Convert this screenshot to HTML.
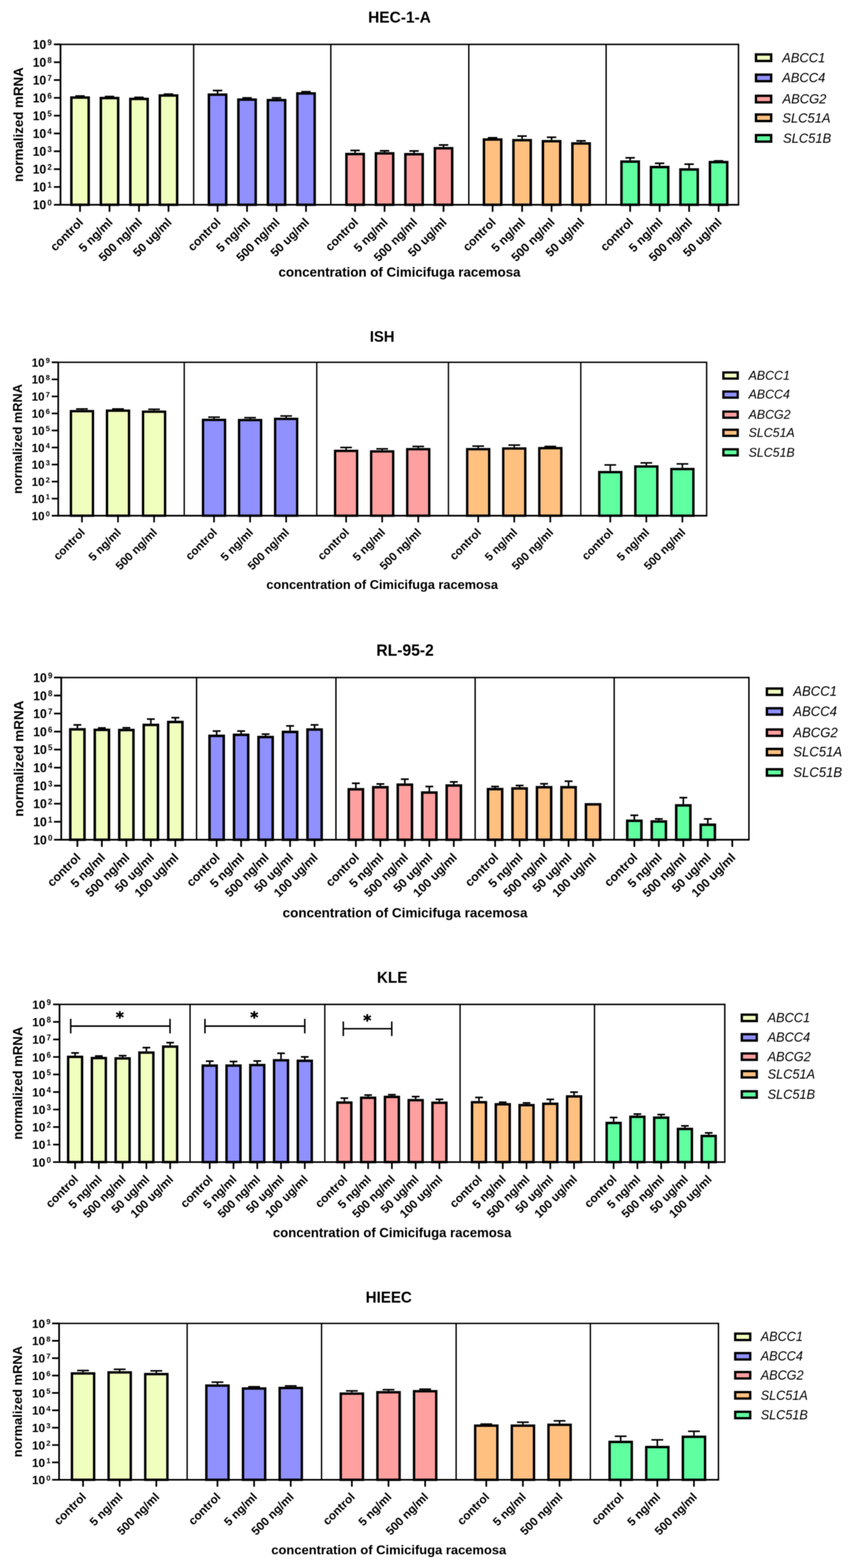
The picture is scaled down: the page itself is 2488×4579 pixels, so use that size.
<!DOCTYPE html>
<html lang="en">
<head>
<meta charset="utf-8">
<title>Normalized mRNA expression of transporters under Cimicifuga racemosa</title>
<style>
html,body{margin:0;padding:0;background:#fff;}
body{width:2488px;height:4579px;overflow:hidden;}
svg{display:block;filter:blur(1.2px);}
text{font-family:"Liberation Sans",Arial,Helvetica,sans-serif;fill:#000;}
.b{font-weight:700;}
.i{font-style:italic;font-weight:400;}
.s{font-family:"DejaVu Sans","Liberation Sans",sans-serif;font-weight:700;stroke:#000;stroke-width:1.3px;stroke-linejoin:round;}
</style>
</head>
<body>
<svg width="2488" height="4579" viewBox="0 0 2488 4579" role="img" aria-label="Bar charts of normalized mRNA expression">
<rect x="0" y="0" width="2488" height="4579" fill="#fff"/>
<g>
<text class="b" transform="translate(1166.6 66.2) scale(1 1.04)" font-size="45.2" text-anchor="middle">HEC-1-A</text>
<path d="M176.7 129.6H2156.5V598" fill="none" stroke="#000" stroke-width="4.2"/>
<path d="M565.5 129.6V598M966 129.6V598M1369 129.6V598M1770 129.6V598" fill="none" stroke="#000" stroke-width="4"/>
<path d="M233.7 281.3V280.4M220 280.4H247.4" fill="none" stroke="#000" stroke-width="4.6"/>
<rect x="208.4" y="284.9" width="50.6" height="313.1" fill="#F0FFBE" stroke="#000" stroke-width="7.2"/>
<path d="M319.8 282.8V281.9M306.1 281.9H333.5" fill="none" stroke="#000" stroke-width="4.6"/>
<rect x="294.5" y="286.4" width="50.6" height="311.6" fill="#F0FFBE" stroke="#000" stroke-width="7.2"/>
<path d="M405.9 285.3V284.4M392.2 284.4H419.6" fill="none" stroke="#000" stroke-width="4.6"/>
<rect x="380.6" y="288.9" width="50.6" height="309.1" fill="#F0FFBE" stroke="#000" stroke-width="7.2"/>
<path d="M492 275.3V274.9M478.3 274.9H505.7" fill="none" stroke="#000" stroke-width="4.6"/>
<rect x="466.7" y="278.9" width="50.6" height="319.1" fill="#F0FFBE" stroke="#000" stroke-width="7.2"/>
<path d="M635.3 272.8V264.4M621.6 264.4H649" fill="none" stroke="#000" stroke-width="4.6"/>
<rect x="610" y="276.4" width="50.6" height="321.6" fill="#9090FF" stroke="#000" stroke-width="7.2"/>
<path d="M721.4 287.3V285.9M707.7 285.9H735.1" fill="none" stroke="#000" stroke-width="4.6"/>
<rect x="696.1" y="290.9" width="50.6" height="307.1" fill="#9090FF" stroke="#000" stroke-width="7.2"/>
<path d="M807.5 288.8V285.9M793.8 285.9H821.2" fill="none" stroke="#000" stroke-width="4.6"/>
<rect x="782.2" y="292.4" width="50.6" height="305.6" fill="#9090FF" stroke="#000" stroke-width="7.2"/>
<path d="M893.6 269.3V267.9M879.9 267.9H907.3" fill="none" stroke="#000" stroke-width="4.6"/>
<rect x="868.3" y="272.9" width="50.6" height="325.1" fill="#9090FF" stroke="#000" stroke-width="7.2"/>
<path d="M1036.9 446.3V439.4M1023.2 439.4H1050.6" fill="none" stroke="#000" stroke-width="4.6"/>
<rect x="1011.6" y="449.9" width="50.6" height="148.1" fill="#FFA0A0" stroke="#000" stroke-width="7.2"/>
<path d="M1123 444.3V440.4M1109.3 440.4H1136.7" fill="none" stroke="#000" stroke-width="4.6"/>
<rect x="1097.7" y="447.9" width="50.6" height="150.1" fill="#FFA0A0" stroke="#000" stroke-width="7.2"/>
<path d="M1209.1 446.8V440.9M1195.4 440.9H1222.8" fill="none" stroke="#000" stroke-width="4.6"/>
<rect x="1183.8" y="450.4" width="50.6" height="147.6" fill="#FFA0A0" stroke="#000" stroke-width="7.2"/>
<path d="M1295.2 429.3V423.4M1281.5 423.4H1308.9" fill="none" stroke="#000" stroke-width="4.6"/>
<rect x="1269.9" y="432.9" width="50.6" height="165.1" fill="#FFA0A0" stroke="#000" stroke-width="7.2"/>
<path d="M1438.5 403.8V402.4M1424.8 402.4H1452.2" fill="none" stroke="#000" stroke-width="4.6"/>
<rect x="1413.2" y="407.4" width="50.6" height="190.6" fill="#FFC080" stroke="#000" stroke-width="7.2"/>
<path d="M1524.6 405.8V397.4M1510.9 397.4H1538.3" fill="none" stroke="#000" stroke-width="4.6"/>
<rect x="1499.3" y="409.4" width="50.6" height="188.6" fill="#FFC080" stroke="#000" stroke-width="7.2"/>
<path d="M1610.7 408.8V400.9M1597 400.9H1624.4" fill="none" stroke="#000" stroke-width="4.6"/>
<rect x="1585.4" y="412.4" width="50.6" height="185.6" fill="#FFC080" stroke="#000" stroke-width="7.2"/>
<path d="M1696.8 415.3V411.4M1683.1 411.4H1710.5" fill="none" stroke="#000" stroke-width="4.6"/>
<rect x="1671.5" y="418.9" width="50.6" height="179.1" fill="#FFC080" stroke="#000" stroke-width="7.2"/>
<path d="M1840.1 468.3V460.9M1826.4 460.9H1853.8" fill="none" stroke="#000" stroke-width="4.6"/>
<rect x="1814.8" y="471.9" width="50.6" height="126.1" fill="#60FFA0" stroke="#000" stroke-width="7.2"/>
<path d="M1926.2 484.3V476.9M1912.5 476.9H1939.9" fill="none" stroke="#000" stroke-width="4.6"/>
<rect x="1900.9" y="487.9" width="50.6" height="110.1" fill="#60FFA0" stroke="#000" stroke-width="7.2"/>
<path d="M2012.3 491.3V479.4M1998.6 479.4H2026" fill="none" stroke="#000" stroke-width="4.6"/>
<rect x="1987" y="494.9" width="50.6" height="103.1" fill="#60FFA0" stroke="#000" stroke-width="7.2"/>
<path d="M2098.4 469.8V469.9M2084.7 469.9H2112.1" fill="none" stroke="#000" stroke-width="4.6"/>
<rect x="2073.1" y="473.4" width="50.6" height="124.6" fill="#60FFA0" stroke="#000" stroke-width="7.2"/>
<path d="M176.7 127.5V598H2158.6" fill="none" stroke="#000" stroke-width="5" stroke-linejoin="miter"/>
<path d="M157.4 598H176.7M157.4 545.96H176.7M157.4 493.91H176.7M157.4 441.87H176.7M157.4 389.82H176.7M157.4 337.78H176.7M157.4 285.73H176.7M157.4 233.69H176.7M157.4 181.64H176.7M157.4 129.6H176.7M233.7 598V618.5M319.8 598V618.5M405.9 598V618.5M492 598V618.5M635.3 598V618.5M721.4 598V618.5M807.5 598V618.5M893.6 598V618.5M1036.9 598V618.5M1123 598V618.5M1209.1 598V618.5M1295.2 598V618.5M1438.5 598V618.5M1524.6 598V618.5M1610.7 598V618.5M1696.8 598V618.5M1840.1 598V618.5M1926.2 598V618.5M2012.3 598V618.5M2098.4 598V618.5" fill="none" stroke="#000" stroke-width="5"/>
<text class="b" transform="translate(151.2 611.2) scale(1 1.04)" font-size="35.1" text-anchor="end">10<tspan font-size="22.64" dx="3.8" dy="-10.6">0</tspan></text>
<text class="b" transform="translate(151.2 559.16) scale(1 1.04)" font-size="35.1" text-anchor="end">10<tspan font-size="22.64" dx="3.8" dy="-10.6">1</tspan></text>
<text class="b" transform="translate(151.2 507.11) scale(1 1.04)" font-size="35.1" text-anchor="end">10<tspan font-size="22.64" dx="3.8" dy="-10.6">2</tspan></text>
<text class="b" transform="translate(151.2 455.07) scale(1 1.04)" font-size="35.1" text-anchor="end">10<tspan font-size="22.64" dx="3.8" dy="-10.6">3</tspan></text>
<text class="b" transform="translate(151.2 403.02) scale(1 1.04)" font-size="35.1" text-anchor="end">10<tspan font-size="22.64" dx="3.8" dy="-10.6">4</tspan></text>
<text class="b" transform="translate(151.2 350.98) scale(1 1.04)" font-size="35.1" text-anchor="end">10<tspan font-size="22.64" dx="3.8" dy="-10.6">5</tspan></text>
<text class="b" transform="translate(151.2 298.93) scale(1 1.04)" font-size="35.1" text-anchor="end">10<tspan font-size="22.64" dx="3.8" dy="-10.6">6</tspan></text>
<text class="b" transform="translate(151.2 246.89) scale(1 1.04)" font-size="35.1" text-anchor="end">10<tspan font-size="22.64" dx="3.8" dy="-10.6">7</tspan></text>
<text class="b" transform="translate(151.2 194.84) scale(1 1.04)" font-size="35.1" text-anchor="end">10<tspan font-size="22.64" dx="3.8" dy="-10.6">8</tspan></text>
<text class="b" transform="translate(151.2 142.8) scale(1 1.04)" font-size="35.1" text-anchor="end">10<tspan font-size="22.64" dx="3.8" dy="-10.6">9</tspan></text>
<text class="b" transform="translate(245 651.3) rotate(-45) scale(1 1)" font-size="35.1" text-anchor="end">control</text>
<text class="b" transform="translate(331.1 651.3) rotate(-45) scale(1 1)" font-size="35.1" text-anchor="end">5 ng/ml</text>
<text class="b" transform="translate(417.2 651.3) rotate(-45) scale(1 1)" font-size="35.1" text-anchor="end">500 ng/ml</text>
<text class="b" transform="translate(503.3 651.3) rotate(-45) scale(1 1)" font-size="35.1" text-anchor="end">50 ug/ml</text>
<text class="b" transform="translate(646.6 651.3) rotate(-45) scale(1 1)" font-size="35.1" text-anchor="end">control</text>
<text class="b" transform="translate(732.7 651.3) rotate(-45) scale(1 1)" font-size="35.1" text-anchor="end">5 ng/ml</text>
<text class="b" transform="translate(818.8 651.3) rotate(-45) scale(1 1)" font-size="35.1" text-anchor="end">500 ng/ml</text>
<text class="b" transform="translate(904.9 651.3) rotate(-45) scale(1 1)" font-size="35.1" text-anchor="end">50 ug/ml</text>
<text class="b" transform="translate(1048.2 651.3) rotate(-45) scale(1 1)" font-size="35.1" text-anchor="end">control</text>
<text class="b" transform="translate(1134.3 651.3) rotate(-45) scale(1 1)" font-size="35.1" text-anchor="end">5 ng/ml</text>
<text class="b" transform="translate(1220.4 651.3) rotate(-45) scale(1 1)" font-size="35.1" text-anchor="end">500 ng/ml</text>
<text class="b" transform="translate(1306.5 651.3) rotate(-45) scale(1 1)" font-size="35.1" text-anchor="end">50 ug/ml</text>
<text class="b" transform="translate(1449.8 651.3) rotate(-45) scale(1 1)" font-size="35.1" text-anchor="end">control</text>
<text class="b" transform="translate(1535.9 651.3) rotate(-45) scale(1 1)" font-size="35.1" text-anchor="end">5 ng/ml</text>
<text class="b" transform="translate(1622 651.3) rotate(-45) scale(1 1)" font-size="35.1" text-anchor="end">500 ng/ml</text>
<text class="b" transform="translate(1708.1 651.3) rotate(-45) scale(1 1)" font-size="35.1" text-anchor="end">50 ug/ml</text>
<text class="b" transform="translate(1851.4 651.3) rotate(-45) scale(1 1)" font-size="35.1" text-anchor="end">control</text>
<text class="b" transform="translate(1937.5 651.3) rotate(-45) scale(1 1)" font-size="35.1" text-anchor="end">5 ng/ml</text>
<text class="b" transform="translate(2023.6 651.3) rotate(-45) scale(1 1)" font-size="35.1" text-anchor="end">500 ng/ml</text>
<text class="b" transform="translate(2109.7 651.3) rotate(-45) scale(1 1)" font-size="35.1" text-anchor="end">50 ug/ml</text>
<text class="b" transform="translate(1166.6 807.8) scale(1 1)" font-size="38.9" text-anchor="middle">concentration of Cimicifuga racemosa</text>
<text class="b" transform="translate(67 363.8) rotate(-90) scale(1 1)" font-size="38.9" text-anchor="middle">normalized mRNA</text>
<rect x="2207.65" y="158.95" width="44.3" height="19.1" fill="#F0FFBE" stroke="#000" stroke-width="6.9"/>
<text class="i" transform="translate(2284 182.3) scale(1 1.04)" font-size="37.8">ABCC1</text>
<rect x="2207.65" y="217.95" width="44.3" height="19.1" fill="#9090FF" stroke="#000" stroke-width="6.9"/>
<text class="i" transform="translate(2284 240) scale(1 1.04)" font-size="37.8">ABCC4</text>
<rect x="2207.65" y="279.75" width="44.3" height="19.1" fill="#FFA0A0" stroke="#000" stroke-width="6.9"/>
<text class="i" transform="translate(2285 301.5) scale(1 1.04)" font-size="37.8">ABCG2</text>
<rect x="2207.65" y="334.35" width="44.3" height="19.1" fill="#FFC080" stroke="#000" stroke-width="6.9"/>
<text class="i" transform="translate(2284.5 357.5) scale(1 1.04)" font-size="37.8">SLC51A</text>
<rect x="2207.65" y="394.45" width="44.3" height="19.1" fill="#60FFA0" stroke="#000" stroke-width="6.9"/>
<text class="i" transform="translate(2286.5 416.8) scale(1 1.04)" font-size="37.8">SLC51B</text>
</g>
<g>
<text class="b" transform="translate(1116 997.9) scale(1 1.04)" font-size="43.26" text-anchor="middle">ISH</text>
<path d="M170 1058H2063.5V1506" fill="none" stroke="#000" stroke-width="4.02"/>
<path d="M538 1058V1506M925 1058V1506M1309.5 1058V1506M1696 1058V1506" fill="none" stroke="#000" stroke-width="3.83"/>
<path d="M239.3 1197.3V1194.3M222.25 1194.3H256.35" fill="none" stroke="#000" stroke-width="4.4"/>
<rect x="207.15" y="1200.75" width="64.31" height="305.25" fill="#F0FFBE" stroke="#000" stroke-width="6.89"/>
<path d="M344.6 1195.8V1194.3M327.55 1194.3H361.65" fill="none" stroke="#000" stroke-width="4.4"/>
<rect x="312.45" y="1199.25" width="64.31" height="306.75" fill="#F0FFBE" stroke="#000" stroke-width="6.89"/>
<path d="M449.9 1198.8V1195.3M432.85 1195.3H466.95" fill="none" stroke="#000" stroke-width="4.4"/>
<rect x="417.75" y="1202.25" width="64.31" height="303.75" fill="#F0FFBE" stroke="#000" stroke-width="6.89"/>
<path d="M625 1222.8V1218.3M607.95 1218.3H642.05" fill="none" stroke="#000" stroke-width="4.4"/>
<rect x="592.85" y="1226.25" width="64.31" height="279.75" fill="#9090FF" stroke="#000" stroke-width="6.89"/>
<path d="M730.3 1223.3V1219.8M713.25 1219.8H747.35" fill="none" stroke="#000" stroke-width="4.4"/>
<rect x="698.15" y="1226.75" width="64.31" height="279.25" fill="#9090FF" stroke="#000" stroke-width="6.89"/>
<path d="M835.6 1219.8V1214.8M818.55 1214.8H852.65" fill="none" stroke="#000" stroke-width="4.4"/>
<rect x="803.45" y="1223.25" width="64.31" height="282.75" fill="#9090FF" stroke="#000" stroke-width="6.89"/>
<path d="M1010.7 1313.3V1306.8M993.65 1306.8H1027.75" fill="none" stroke="#000" stroke-width="4.4"/>
<rect x="978.55" y="1316.75" width="64.31" height="189.25" fill="#FFA0A0" stroke="#000" stroke-width="6.89"/>
<path d="M1116 1314.8V1310.8M1098.95 1310.8H1133.05" fill="none" stroke="#000" stroke-width="4.4"/>
<rect x="1083.85" y="1318.25" width="64.31" height="187.75" fill="#FFA0A0" stroke="#000" stroke-width="6.89"/>
<path d="M1221.3 1308.3V1303.8M1204.25 1303.8H1238.35" fill="none" stroke="#000" stroke-width="4.4"/>
<rect x="1189.15" y="1311.75" width="64.31" height="194.25" fill="#FFA0A0" stroke="#000" stroke-width="6.89"/>
<path d="M1396.4 1308.3V1302.8M1379.35 1302.8H1413.45" fill="none" stroke="#000" stroke-width="4.4"/>
<rect x="1364.25" y="1311.75" width="64.31" height="194.25" fill="#FFC080" stroke="#000" stroke-width="6.89"/>
<path d="M1501.7 1306.3V1299.8M1484.65 1299.8H1518.75" fill="none" stroke="#000" stroke-width="4.4"/>
<rect x="1469.55" y="1309.75" width="64.31" height="196.25" fill="#FFC080" stroke="#000" stroke-width="6.89"/>
<path d="M1607 1305.3V1303.8M1589.95 1303.8H1624.05" fill="none" stroke="#000" stroke-width="4.4"/>
<rect x="1574.85" y="1308.75" width="64.31" height="197.25" fill="#FFC080" stroke="#000" stroke-width="6.89"/>
<path d="M1782.1 1375.3V1357.8M1765.05 1357.8H1799.15" fill="none" stroke="#000" stroke-width="4.4"/>
<rect x="1749.95" y="1378.75" width="64.31" height="127.25" fill="#60FFA0" stroke="#000" stroke-width="6.89"/>
<path d="M1887.4 1358.8V1351.8M1870.35 1351.8H1904.45" fill="none" stroke="#000" stroke-width="4.4"/>
<rect x="1855.25" y="1362.25" width="64.31" height="143.75" fill="#60FFA0" stroke="#000" stroke-width="6.89"/>
<path d="M1992.7 1366.3V1354.8M1975.65 1354.8H2009.75" fill="none" stroke="#000" stroke-width="4.4"/>
<rect x="1960.55" y="1369.75" width="64.31" height="136.25" fill="#60FFA0" stroke="#000" stroke-width="6.89"/>
<path d="M170 1055.99V1506H2065.51" fill="none" stroke="#000" stroke-width="4.79" stroke-linejoin="miter"/>
<path d="M151.1 1506H170M151.1 1456.22H170M151.1 1406.44H170M151.1 1356.67H170M151.1 1306.89H170M151.1 1257.11H170M151.1 1207.33H170M151.1 1157.56H170M151.1 1107.78H170M151.1 1058H170M239.3 1506V1525.62M344.6 1506V1525.62M449.9 1506V1525.62M625 1506V1525.62M730.3 1506V1525.62M835.6 1506V1525.62M1010.7 1506V1525.62M1116 1506V1525.62M1221.3 1506V1525.62M1396.4 1506V1525.62M1501.7 1506V1525.62M1607 1506V1525.62M1782.1 1506V1525.62M1887.4 1506V1525.62M1992.7 1506V1525.62" fill="none" stroke="#000" stroke-width="4.79"/>
<text class="b" transform="translate(145.6 1518.63) scale(1 1.04)" font-size="33.59" text-anchor="end">10<tspan font-size="21.67" dx="3.64" dy="-10.14">0</tspan></text>
<text class="b" transform="translate(145.6 1468.85) scale(1 1.04)" font-size="33.59" text-anchor="end">10<tspan font-size="21.67" dx="3.64" dy="-10.14">1</tspan></text>
<text class="b" transform="translate(145.6 1419.08) scale(1 1.04)" font-size="33.59" text-anchor="end">10<tspan font-size="21.67" dx="3.64" dy="-10.14">2</tspan></text>
<text class="b" transform="translate(145.6 1369.3) scale(1 1.04)" font-size="33.59" text-anchor="end">10<tspan font-size="21.67" dx="3.64" dy="-10.14">3</tspan></text>
<text class="b" transform="translate(145.6 1319.52) scale(1 1.04)" font-size="33.59" text-anchor="end">10<tspan font-size="21.67" dx="3.64" dy="-10.14">4</tspan></text>
<text class="b" transform="translate(145.6 1269.74) scale(1 1.04)" font-size="33.59" text-anchor="end">10<tspan font-size="21.67" dx="3.64" dy="-10.14">5</tspan></text>
<text class="b" transform="translate(145.6 1219.97) scale(1 1.04)" font-size="33.59" text-anchor="end">10<tspan font-size="21.67" dx="3.64" dy="-10.14">6</tspan></text>
<text class="b" transform="translate(145.6 1170.19) scale(1 1.04)" font-size="33.59" text-anchor="end">10<tspan font-size="21.67" dx="3.64" dy="-10.14">7</tspan></text>
<text class="b" transform="translate(145.6 1120.41) scale(1 1.04)" font-size="33.59" text-anchor="end">10<tspan font-size="21.67" dx="3.64" dy="-10.14">8</tspan></text>
<text class="b" transform="translate(145.6 1070.63) scale(1 1.04)" font-size="33.59" text-anchor="end">10<tspan font-size="21.67" dx="3.64" dy="-10.14">9</tspan></text>
<text class="b" transform="translate(250.11 1557.01) rotate(-45) scale(1 1)" font-size="33.59" text-anchor="end">control</text>
<text class="b" transform="translate(355.41 1557.01) rotate(-45) scale(1 1)" font-size="33.59" text-anchor="end">5 ng/ml</text>
<text class="b" transform="translate(460.71 1557.01) rotate(-45) scale(1 1)" font-size="33.59" text-anchor="end">500 ng/ml</text>
<text class="b" transform="translate(635.81 1557.01) rotate(-45) scale(1 1)" font-size="33.59" text-anchor="end">control</text>
<text class="b" transform="translate(741.11 1557.01) rotate(-45) scale(1 1)" font-size="33.59" text-anchor="end">5 ng/ml</text>
<text class="b" transform="translate(846.41 1557.01) rotate(-45) scale(1 1)" font-size="33.59" text-anchor="end">500 ng/ml</text>
<text class="b" transform="translate(1021.51 1557.01) rotate(-45) scale(1 1)" font-size="33.59" text-anchor="end">control</text>
<text class="b" transform="translate(1126.81 1557.01) rotate(-45) scale(1 1)" font-size="33.59" text-anchor="end">5 ng/ml</text>
<text class="b" transform="translate(1232.11 1557.01) rotate(-45) scale(1 1)" font-size="33.59" text-anchor="end">500 ng/ml</text>
<text class="b" transform="translate(1407.21 1557.01) rotate(-45) scale(1 1)" font-size="33.59" text-anchor="end">control</text>
<text class="b" transform="translate(1512.51 1557.01) rotate(-45) scale(1 1)" font-size="33.59" text-anchor="end">5 ng/ml</text>
<text class="b" transform="translate(1617.81 1557.01) rotate(-45) scale(1 1)" font-size="33.59" text-anchor="end">500 ng/ml</text>
<text class="b" transform="translate(1792.91 1557.01) rotate(-45) scale(1 1)" font-size="33.59" text-anchor="end">control</text>
<text class="b" transform="translate(1898.21 1557.01) rotate(-45) scale(1 1)" font-size="33.59" text-anchor="end">5 ng/ml</text>
<text class="b" transform="translate(2003.51 1557.01) rotate(-45) scale(1 1)" font-size="33.59" text-anchor="end">500 ng/ml</text>
<text class="b" transform="translate(1116 1720) scale(1 1)" font-size="37.23" text-anchor="middle">concentration of Cimicifuga racemosa</text>
<text class="b" transform="translate(64 1282) rotate(-90) scale(1 1)" font-size="37.23" text-anchor="middle">normalized mRNA</text>
<rect x="2112.4" y="1087.65" width="41.9" height="17.9" fill="#F0FFBE" stroke="#000" stroke-width="6.6"/>
<text class="i" transform="translate(2186 1108.8) scale(1 1.04)" font-size="36.17">ABCC1</text>
<rect x="2112.4" y="1143.35" width="41.9" height="17.9" fill="#9090FF" stroke="#000" stroke-width="6.6"/>
<text class="i" transform="translate(2186 1163.8) scale(1 1.04)" font-size="36.17">ABCC4</text>
<rect x="2112.4" y="1201.95" width="41.9" height="17.9" fill="#FFA0A0" stroke="#000" stroke-width="6.6"/>
<text class="i" transform="translate(2186 1223.4) scale(1 1.04)" font-size="36.17">ABCG2</text>
<rect x="2112.4" y="1254.95" width="41.9" height="17.9" fill="#FFC080" stroke="#000" stroke-width="6.6"/>
<text class="i" transform="translate(2186 1276.4) scale(1 1.04)" font-size="36.17">SLC51A</text>
<rect x="2112.4" y="1312.05" width="41.9" height="17.9" fill="#60FFA0" stroke="#000" stroke-width="6.6"/>
<text class="i" transform="translate(2186 1333.9) scale(1 1.04)" font-size="36.17">SLC51B</text>
</g>
<g>
<text class="b" transform="translate(1182.9 1914.95) scale(1 1.04)" font-size="45.74" text-anchor="middle">RL-95-2</text>
<path d="M178.8 1978.5H2187V2452.3" fill="none" stroke="#000" stroke-width="4.25"/>
<path d="M574 1978.5V2452.3M981 1978.5V2452.3M1387.5 1978.5V2452.3M1793.5 1978.5V2452.3" fill="none" stroke="#000" stroke-width="4.05"/>
<path d="M226 2126.3V2116.93M214.55 2116.93H237.45" fill="none" stroke="#000" stroke-width="4.66"/>
<rect x="205.24" y="2129.94" width="41.51" height="322.36" fill="#F0FFBE" stroke="#000" stroke-width="7.29"/>
<path d="M297.5 2127.8V2125.93M286.05 2125.93H308.95" fill="none" stroke="#000" stroke-width="4.66"/>
<rect x="276.74" y="2131.44" width="41.51" height="320.86" fill="#F0FFBE" stroke="#000" stroke-width="7.29"/>
<path d="M369 2128.3V2125.43M357.55 2125.43H380.45" fill="none" stroke="#000" stroke-width="4.66"/>
<rect x="348.24" y="2131.94" width="41.51" height="320.36" fill="#F0FFBE" stroke="#000" stroke-width="7.29"/>
<path d="M440.5 2113.3V2099.93M429.05 2099.93H451.95" fill="none" stroke="#000" stroke-width="4.66"/>
<rect x="419.74" y="2116.94" width="41.51" height="335.36" fill="#F0FFBE" stroke="#000" stroke-width="7.29"/>
<path d="M512 2104.8V2095.93M500.55 2095.93H523.45" fill="none" stroke="#000" stroke-width="4.66"/>
<rect x="491.24" y="2108.44" width="41.51" height="343.86" fill="#F0FFBE" stroke="#000" stroke-width="7.29"/>
<path d="M632.6 2145.3V2134.93M621.15 2134.93H644.05" fill="none" stroke="#000" stroke-width="4.66"/>
<rect x="611.84" y="2148.94" width="41.51" height="303.36" fill="#9090FF" stroke="#000" stroke-width="7.29"/>
<path d="M704.1 2142.3V2134.93M692.65 2134.93H715.55" fill="none" stroke="#000" stroke-width="4.66"/>
<rect x="683.34" y="2145.94" width="41.51" height="306.36" fill="#9090FF" stroke="#000" stroke-width="7.29"/>
<path d="M775.6 2148.8V2143.93M764.15 2143.93H787.05" fill="none" stroke="#000" stroke-width="4.66"/>
<rect x="754.84" y="2152.44" width="41.51" height="299.86" fill="#9090FF" stroke="#000" stroke-width="7.29"/>
<path d="M847.1 2133.8V2119.93M835.65 2119.93H858.55" fill="none" stroke="#000" stroke-width="4.66"/>
<rect x="826.34" y="2137.44" width="41.51" height="314.86" fill="#9090FF" stroke="#000" stroke-width="7.29"/>
<path d="M918.6 2126.8V2116.93M907.15 2116.93H930.05" fill="none" stroke="#000" stroke-width="4.66"/>
<rect x="897.84" y="2130.44" width="41.51" height="321.86" fill="#9090FF" stroke="#000" stroke-width="7.29"/>
<path d="M1039.2 2301.3V2287.43M1027.75 2287.43H1050.65" fill="none" stroke="#000" stroke-width="4.66"/>
<rect x="1018.44" y="2304.94" width="41.51" height="147.36" fill="#FFA0A0" stroke="#000" stroke-width="7.29"/>
<path d="M1110.7 2295.3V2289.43M1099.25 2289.43H1122.15" fill="none" stroke="#000" stroke-width="4.66"/>
<rect x="1089.94" y="2298.94" width="41.51" height="153.36" fill="#FFA0A0" stroke="#000" stroke-width="7.29"/>
<path d="M1182.2 2287.8V2275.43M1170.75 2275.43H1193.65" fill="none" stroke="#000" stroke-width="4.66"/>
<rect x="1161.44" y="2291.44" width="41.51" height="160.86" fill="#FFA0A0" stroke="#000" stroke-width="7.29"/>
<path d="M1253.7 2310.8V2296.93M1242.25 2296.93H1265.15" fill="none" stroke="#000" stroke-width="4.66"/>
<rect x="1232.94" y="2314.44" width="41.51" height="137.86" fill="#FFA0A0" stroke="#000" stroke-width="7.29"/>
<path d="M1325.2 2290.3V2283.43M1313.75 2283.43H1336.65" fill="none" stroke="#000" stroke-width="4.66"/>
<rect x="1304.44" y="2293.94" width="41.51" height="158.36" fill="#FFA0A0" stroke="#000" stroke-width="7.29"/>
<path d="M1445.8 2300.8V2296.93M1434.35 2296.93H1457.25" fill="none" stroke="#000" stroke-width="4.66"/>
<rect x="1425.04" y="2304.44" width="41.51" height="147.86" fill="#FFC080" stroke="#000" stroke-width="7.29"/>
<path d="M1517.3 2298.8V2293.93M1505.85 2293.93H1528.75" fill="none" stroke="#000" stroke-width="4.66"/>
<rect x="1496.54" y="2302.44" width="41.51" height="149.86" fill="#FFC080" stroke="#000" stroke-width="7.29"/>
<path d="M1588.8 2295.3V2288.93M1577.35 2288.93H1600.25" fill="none" stroke="#000" stroke-width="4.66"/>
<rect x="1568.04" y="2298.94" width="41.51" height="153.36" fill="#FFC080" stroke="#000" stroke-width="7.29"/>
<path d="M1660.3 2295.3V2281.43M1648.85 2281.43H1671.75" fill="none" stroke="#000" stroke-width="4.66"/>
<rect x="1639.54" y="2298.94" width="41.51" height="153.36" fill="#FFC080" stroke="#000" stroke-width="7.29"/>
<rect x="1711.04" y="2348.94" width="41.51" height="103.36" fill="#FFC080" stroke="#000" stroke-width="7.29"/>
<path d="M1852.4 2393.3V2380.93M1840.95 2380.93H1863.85" fill="none" stroke="#000" stroke-width="4.66"/>
<rect x="1831.64" y="2396.94" width="41.51" height="55.36" fill="#60FFA0" stroke="#000" stroke-width="7.29"/>
<path d="M1923.9 2395.3V2391.43M1912.45 2391.43H1935.35" fill="none" stroke="#000" stroke-width="4.66"/>
<rect x="1903.14" y="2398.94" width="41.51" height="53.36" fill="#60FFA0" stroke="#000" stroke-width="7.29"/>
<path d="M1995.4 2348.3V2329.43M1983.95 2329.43H2006.85" fill="none" stroke="#000" stroke-width="4.66"/>
<rect x="1974.64" y="2351.94" width="41.51" height="100.36" fill="#60FFA0" stroke="#000" stroke-width="7.29"/>
<path d="M2066.9 2404.8V2391.43M2055.45 2391.43H2078.35" fill="none" stroke="#000" stroke-width="4.66"/>
<rect x="2046.14" y="2408.44" width="41.51" height="43.86" fill="#60FFA0" stroke="#000" stroke-width="7.29"/>
<path d="M178.8 1976.37V2452.3H2189.13" fill="none" stroke="#000" stroke-width="5.06" stroke-linejoin="miter"/>
<path d="M157.7 2452.3H178.8M157.7 2399.66H178.8M157.7 2347.01H178.8M157.7 2294.37H178.8M157.7 2241.72H178.8M157.7 2189.08H178.8M157.7 2136.43H178.8M157.7 2083.79H178.8M157.7 2031.14H178.8M157.7 1978.5H178.8M226 2452.3V2473.05M297.5 2452.3V2473.05M369 2452.3V2473.05M440.5 2452.3V2473.05M512 2452.3V2473.05M632.6 2452.3V2473.05M704.1 2452.3V2473.05M775.6 2452.3V2473.05M847.1 2452.3V2473.05M918.6 2452.3V2473.05M1039.2 2452.3V2473.05M1110.7 2452.3V2473.05M1182.2 2452.3V2473.05M1253.7 2452.3V2473.05M1325.2 2452.3V2473.05M1445.8 2452.3V2473.05M1517.3 2452.3V2473.05M1588.8 2452.3V2473.05M1660.3 2452.3V2473.05M1731.8 2452.3V2473.05M1852.4 2452.3V2473.05M1923.9 2452.3V2473.05M1995.4 2452.3V2473.05M2066.9 2452.3V2473.05M2138.4 2452.3V2473.05" fill="none" stroke="#000" stroke-width="5.06"/>
<text class="b" transform="translate(152.99 2465.66) scale(1 1.04)" font-size="35.52" text-anchor="end">10<tspan font-size="22.91" dx="3.85" dy="-10.73">0</tspan></text>
<text class="b" transform="translate(152.99 2413.01) scale(1 1.04)" font-size="35.52" text-anchor="end">10<tspan font-size="22.91" dx="3.85" dy="-10.73">1</tspan></text>
<text class="b" transform="translate(152.99 2360.37) scale(1 1.04)" font-size="35.52" text-anchor="end">10<tspan font-size="22.91" dx="3.85" dy="-10.73">2</tspan></text>
<text class="b" transform="translate(152.99 2307.73) scale(1 1.04)" font-size="35.52" text-anchor="end">10<tspan font-size="22.91" dx="3.85" dy="-10.73">3</tspan></text>
<text class="b" transform="translate(152.99 2255.08) scale(1 1.04)" font-size="35.52" text-anchor="end">10<tspan font-size="22.91" dx="3.85" dy="-10.73">4</tspan></text>
<text class="b" transform="translate(152.99 2202.44) scale(1 1.04)" font-size="35.52" text-anchor="end">10<tspan font-size="22.91" dx="3.85" dy="-10.73">5</tspan></text>
<text class="b" transform="translate(152.99 2149.79) scale(1 1.04)" font-size="35.52" text-anchor="end">10<tspan font-size="22.91" dx="3.85" dy="-10.73">6</tspan></text>
<text class="b" transform="translate(152.99 2097.15) scale(1 1.04)" font-size="35.52" text-anchor="end">10<tspan font-size="22.91" dx="3.85" dy="-10.73">7</tspan></text>
<text class="b" transform="translate(152.99 2044.5) scale(1 1.04)" font-size="35.52" text-anchor="end">10<tspan font-size="22.91" dx="3.85" dy="-10.73">8</tspan></text>
<text class="b" transform="translate(152.99 1991.86) scale(1 1.04)" font-size="35.52" text-anchor="end">10<tspan font-size="22.91" dx="3.85" dy="-10.73">9</tspan></text>
<text class="b" transform="translate(237.44 2506.24) rotate(-45) scale(1 1)" font-size="35.52" text-anchor="end">control</text>
<text class="b" transform="translate(308.94 2506.24) rotate(-45) scale(1 1)" font-size="35.52" text-anchor="end">5 ng/ml</text>
<text class="b" transform="translate(380.44 2506.24) rotate(-45) scale(1 1)" font-size="35.52" text-anchor="end">500 ng/ml</text>
<text class="b" transform="translate(451.94 2506.24) rotate(-45) scale(1 1)" font-size="35.52" text-anchor="end">50 ug/ml</text>
<text class="b" transform="translate(523.44 2506.24) rotate(-45) scale(1 1)" font-size="35.52" text-anchor="end">100 ug/ml</text>
<text class="b" transform="translate(644.04 2506.24) rotate(-45) scale(1 1)" font-size="35.52" text-anchor="end">control</text>
<text class="b" transform="translate(715.54 2506.24) rotate(-45) scale(1 1)" font-size="35.52" text-anchor="end">5 ng/ml</text>
<text class="b" transform="translate(787.04 2506.24) rotate(-45) scale(1 1)" font-size="35.52" text-anchor="end">500 ng/ml</text>
<text class="b" transform="translate(858.54 2506.24) rotate(-45) scale(1 1)" font-size="35.52" text-anchor="end">50 ug/ml</text>
<text class="b" transform="translate(930.04 2506.24) rotate(-45) scale(1 1)" font-size="35.52" text-anchor="end">100 ug/ml</text>
<text class="b" transform="translate(1050.64 2506.24) rotate(-45) scale(1 1)" font-size="35.52" text-anchor="end">control</text>
<text class="b" transform="translate(1122.14 2506.24) rotate(-45) scale(1 1)" font-size="35.52" text-anchor="end">5 ng/ml</text>
<text class="b" transform="translate(1193.64 2506.24) rotate(-45) scale(1 1)" font-size="35.52" text-anchor="end">500 ng/ml</text>
<text class="b" transform="translate(1265.14 2506.24) rotate(-45) scale(1 1)" font-size="35.52" text-anchor="end">50 ug/ml</text>
<text class="b" transform="translate(1336.64 2506.24) rotate(-45) scale(1 1)" font-size="35.52" text-anchor="end">100 ug/ml</text>
<text class="b" transform="translate(1457.24 2506.24) rotate(-45) scale(1 1)" font-size="35.52" text-anchor="end">control</text>
<text class="b" transform="translate(1528.74 2506.24) rotate(-45) scale(1 1)" font-size="35.52" text-anchor="end">5 ng/ml</text>
<text class="b" transform="translate(1600.24 2506.24) rotate(-45) scale(1 1)" font-size="35.52" text-anchor="end">500 ng/ml</text>
<text class="b" transform="translate(1671.74 2506.24) rotate(-45) scale(1 1)" font-size="35.52" text-anchor="end">50 ug/ml</text>
<text class="b" transform="translate(1743.24 2506.24) rotate(-45) scale(1 1)" font-size="35.52" text-anchor="end">100 ug/ml</text>
<text class="b" transform="translate(1863.84 2506.24) rotate(-45) scale(1 1)" font-size="35.52" text-anchor="end">control</text>
<text class="b" transform="translate(1935.34 2506.24) rotate(-45) scale(1 1)" font-size="35.52" text-anchor="end">5 ng/ml</text>
<text class="b" transform="translate(2006.84 2506.24) rotate(-45) scale(1 1)" font-size="35.52" text-anchor="end">500 ng/ml</text>
<text class="b" transform="translate(2078.34 2506.24) rotate(-45) scale(1 1)" font-size="35.52" text-anchor="end">50 ug/ml</text>
<text class="b" transform="translate(2149.84 2506.24) rotate(-45) scale(1 1)" font-size="35.52" text-anchor="end">100 ug/ml</text>
<text class="b" transform="translate(1182.9 2678.5) scale(1 1)" font-size="39.37" text-anchor="middle">concentration of Cimicifuga racemosa</text>
<text class="b" transform="translate(67.5 2215.4) rotate(-90) scale(1 1)" font-size="39.37" text-anchor="middle">normalized mRNA</text>
<rect x="2239.49" y="2010.74" width="44.22" height="18.52" fill="#F0FFBE" stroke="#000" stroke-width="6.98"/>
<text class="i" transform="translate(2316.5 2032.2) scale(1 1.04)" font-size="38.25">ABCC1</text>
<rect x="2239.49" y="2068.34" width="44.22" height="18.52" fill="#9090FF" stroke="#000" stroke-width="6.98"/>
<text class="i" transform="translate(2316.5 2090.8) scale(1 1.04)" font-size="38.25">ABCC4</text>
<rect x="2239.49" y="2130.34" width="44.22" height="18.52" fill="#FFA0A0" stroke="#000" stroke-width="6.98"/>
<text class="i" transform="translate(2316.5 2152.5) scale(1 1.04)" font-size="38.25">ABCG2</text>
<rect x="2239.49" y="2187.14" width="44.22" height="18.52" fill="#FFC080" stroke="#000" stroke-width="6.98"/>
<text class="i" transform="translate(2316.5 2209.3) scale(1 1.04)" font-size="38.25">SLC51A</text>
<rect x="2239.49" y="2246.44" width="44.22" height="18.52" fill="#60FFA0" stroke="#000" stroke-width="6.98"/>
<text class="i" transform="translate(2316.5 2268.6) scale(1 1.04)" font-size="38.25">SLC51B</text>
</g>
<g>
<text class="b" transform="translate(1145.15 2870.14) scale(1 1.04)" font-size="44.52" text-anchor="middle">KLE</text>
<path d="M173.8 2933.1H2116.5V3393.6" fill="none" stroke="#000" stroke-width="4.14"/>
<path d="M555 2933.1V3393.6M948.5 2933.1V3393.6M1343.5 2933.1V3393.6M1736 2933.1V3393.6" fill="none" stroke="#000" stroke-width="3.94"/>
<path d="M219.3 3082.8V3074.87M208.1 3074.87H230.5" fill="none" stroke="#000" stroke-width="4.53"/>
<rect x="198.95" y="3086.35" width="40.71" height="307.25" fill="#F0FFBE" stroke="#000" stroke-width="7.09"/>
<path d="M288.7 3086.3V3083.87M277.5 3083.87H299.9" fill="none" stroke="#000" stroke-width="4.53"/>
<rect x="268.35" y="3089.85" width="40.71" height="303.75" fill="#F0FFBE" stroke="#000" stroke-width="7.09"/>
<path d="M358.1 3087.3V3082.87M346.9 3082.87H369.3" fill="none" stroke="#000" stroke-width="4.53"/>
<rect x="337.75" y="3090.85" width="40.71" height="302.75" fill="#F0FFBE" stroke="#000" stroke-width="7.09"/>
<path d="M427.5 3070.3V3059.37M416.3 3059.37H438.7" fill="none" stroke="#000" stroke-width="4.53"/>
<rect x="407.15" y="3073.85" width="40.71" height="319.75" fill="#F0FFBE" stroke="#000" stroke-width="7.09"/>
<path d="M496.9 3052.8V3044.87M485.7 3044.87H508.1" fill="none" stroke="#000" stroke-width="4.53"/>
<rect x="476.55" y="3056.35" width="40.71" height="337.25" fill="#F0FFBE" stroke="#000" stroke-width="7.09"/>
<path d="M612.45 3108.3V3098.87M601.25 3098.87H623.65" fill="none" stroke="#000" stroke-width="4.53"/>
<rect x="592.1" y="3111.85" width="40.71" height="281.75" fill="#9090FF" stroke="#000" stroke-width="7.09"/>
<path d="M681.85 3108.3V3099.87M670.65 3099.87H693.05" fill="none" stroke="#000" stroke-width="4.53"/>
<rect x="661.5" y="3111.85" width="40.71" height="281.75" fill="#9090FF" stroke="#000" stroke-width="7.09"/>
<path d="M751.25 3106.8V3098.37M740.05 3098.37H762.45" fill="none" stroke="#000" stroke-width="4.53"/>
<rect x="730.9" y="3110.35" width="40.71" height="283.25" fill="#9090FF" stroke="#000" stroke-width="7.09"/>
<path d="M820.65 3092.8V3075.87M809.45 3075.87H831.85" fill="none" stroke="#000" stroke-width="4.53"/>
<rect x="800.3" y="3096.35" width="40.71" height="297.25" fill="#9090FF" stroke="#000" stroke-width="7.09"/>
<path d="M890.05 3094.3V3086.37M878.85 3086.37H901.25" fill="none" stroke="#000" stroke-width="4.53"/>
<rect x="869.7" y="3097.85" width="40.71" height="295.75" fill="#9090FF" stroke="#000" stroke-width="7.09"/>
<path d="M1005.6 3216.3V3206.87M994.4 3206.87H1016.8" fill="none" stroke="#000" stroke-width="4.53"/>
<rect x="985.25" y="3219.85" width="40.71" height="173.75" fill="#FFA0A0" stroke="#000" stroke-width="7.09"/>
<path d="M1075 3202.3V3197.87M1063.8 3197.87H1086.2" fill="none" stroke="#000" stroke-width="4.53"/>
<rect x="1054.65" y="3205.85" width="40.71" height="187.75" fill="#FFA0A0" stroke="#000" stroke-width="7.09"/>
<path d="M1144.4 3199.8V3196.87M1133.2 3196.87H1155.6" fill="none" stroke="#000" stroke-width="4.53"/>
<rect x="1124.05" y="3203.35" width="40.71" height="190.25" fill="#FFA0A0" stroke="#000" stroke-width="7.09"/>
<path d="M1213.8 3209.3V3202.37M1202.6 3202.37H1225" fill="none" stroke="#000" stroke-width="4.53"/>
<rect x="1193.45" y="3212.85" width="40.71" height="180.75" fill="#FFA0A0" stroke="#000" stroke-width="7.09"/>
<path d="M1283.2 3216.8V3210.37M1272 3210.37H1294.4" fill="none" stroke="#000" stroke-width="4.53"/>
<rect x="1262.85" y="3220.35" width="40.71" height="173.25" fill="#FFA0A0" stroke="#000" stroke-width="7.09"/>
<path d="M1398.75 3215.3V3204.87M1387.55 3204.87H1409.95" fill="none" stroke="#000" stroke-width="4.53"/>
<rect x="1378.4" y="3218.85" width="40.71" height="174.75" fill="#FFC080" stroke="#000" stroke-width="7.09"/>
<path d="M1468.15 3221.3V3218.87M1456.95 3218.87H1479.35" fill="none" stroke="#000" stroke-width="4.53"/>
<rect x="1447.8" y="3224.85" width="40.71" height="168.75" fill="#FFC080" stroke="#000" stroke-width="7.09"/>
<path d="M1537.55 3223.8V3220.87M1526.35 3220.87H1548.75" fill="none" stroke="#000" stroke-width="4.53"/>
<rect x="1517.2" y="3227.35" width="40.71" height="166.25" fill="#FFC080" stroke="#000" stroke-width="7.09"/>
<path d="M1606.95 3219.8V3210.37M1595.75 3210.37H1618.15" fill="none" stroke="#000" stroke-width="4.53"/>
<rect x="1586.6" y="3223.35" width="40.71" height="170.25" fill="#FFC080" stroke="#000" stroke-width="7.09"/>
<path d="M1676.35 3198.3V3189.37M1665.15 3189.37H1687.55" fill="none" stroke="#000" stroke-width="4.53"/>
<rect x="1656" y="3201.85" width="40.71" height="191.75" fill="#FFC080" stroke="#000" stroke-width="7.09"/>
<path d="M1791.9 3275.8V3263.37M1780.7 3263.37H1803.1" fill="none" stroke="#000" stroke-width="4.53"/>
<rect x="1771.55" y="3279.35" width="40.71" height="114.25" fill="#60FFA0" stroke="#000" stroke-width="7.09"/>
<path d="M1861.3 3257.8V3253.37M1850.1 3253.37H1872.5" fill="none" stroke="#000" stroke-width="4.53"/>
<rect x="1840.95" y="3261.35" width="40.71" height="132.25" fill="#60FFA0" stroke="#000" stroke-width="7.09"/>
<path d="M1930.7 3260.3V3254.87M1919.5 3254.87H1941.9" fill="none" stroke="#000" stroke-width="4.53"/>
<rect x="1910.35" y="3263.85" width="40.71" height="129.75" fill="#60FFA0" stroke="#000" stroke-width="7.09"/>
<path d="M2000.1 3293.3V3287.87M1988.9 3287.87H2011.3" fill="none" stroke="#000" stroke-width="4.53"/>
<rect x="1979.75" y="3296.85" width="40.71" height="96.75" fill="#60FFA0" stroke="#000" stroke-width="7.09"/>
<path d="M2069.5 3313.8V3308.37M2058.3 3308.37H2080.7" fill="none" stroke="#000" stroke-width="4.53"/>
<rect x="2049.15" y="3317.35" width="40.71" height="76.25" fill="#60FFA0" stroke="#000" stroke-width="7.09"/>
<path d="M173.8 2931.03V3393.6H2118.57" fill="none" stroke="#000" stroke-width="4.92" stroke-linejoin="miter"/>
<path d="M155.1 3393.6H173.8M155.1 3342.43H173.8M155.1 3291.27H173.8M155.1 3240.1H173.8M155.1 3188.93H173.8M155.1 3137.77H173.8M155.1 3086.6H173.8M155.1 3035.43H173.8M155.1 2984.27H173.8M155.1 2933.1H173.8M219.3 3393.6V3413.79M288.7 3393.6V3413.79M358.1 3393.6V3413.79M427.5 3393.6V3413.79M496.9 3393.6V3413.79M612.45 3393.6V3413.79M681.85 3393.6V3413.79M751.25 3393.6V3413.79M820.65 3393.6V3413.79M890.05 3393.6V3413.79M1005.6 3393.6V3413.79M1075 3393.6V3413.79M1144.4 3393.6V3413.79M1213.8 3393.6V3413.79M1283.2 3393.6V3413.79M1398.75 3393.6V3413.79M1468.15 3393.6V3413.79M1537.55 3393.6V3413.79M1606.95 3393.6V3413.79M1676.35 3393.6V3413.79M1791.9 3393.6V3413.79M1861.3 3393.6V3413.79M1930.7 3393.6V3413.79M2000.1 3393.6V3413.79M2069.5 3393.6V3413.79" fill="none" stroke="#000" stroke-width="4.92"/>
<text class="b" transform="translate(148.68 3406.6) scale(1 1.04)" font-size="34.57" text-anchor="end">10<tspan font-size="22.3" dx="3.74" dy="-10.44">0</tspan></text>
<text class="b" transform="translate(148.68 3355.44) scale(1 1.04)" font-size="34.57" text-anchor="end">10<tspan font-size="22.3" dx="3.74" dy="-10.44">1</tspan></text>
<text class="b" transform="translate(148.68 3304.27) scale(1 1.04)" font-size="34.57" text-anchor="end">10<tspan font-size="22.3" dx="3.74" dy="-10.44">2</tspan></text>
<text class="b" transform="translate(148.68 3253.1) scale(1 1.04)" font-size="34.57" text-anchor="end">10<tspan font-size="22.3" dx="3.74" dy="-10.44">3</tspan></text>
<text class="b" transform="translate(148.68 3201.94) scale(1 1.04)" font-size="34.57" text-anchor="end">10<tspan font-size="22.3" dx="3.74" dy="-10.44">4</tspan></text>
<text class="b" transform="translate(148.68 3150.77) scale(1 1.04)" font-size="34.57" text-anchor="end">10<tspan font-size="22.3" dx="3.74" dy="-10.44">5</tspan></text>
<text class="b" transform="translate(148.68 3099.6) scale(1 1.04)" font-size="34.57" text-anchor="end">10<tspan font-size="22.3" dx="3.74" dy="-10.44">6</tspan></text>
<text class="b" transform="translate(148.68 3048.44) scale(1 1.04)" font-size="34.57" text-anchor="end">10<tspan font-size="22.3" dx="3.74" dy="-10.44">7</tspan></text>
<text class="b" transform="translate(148.68 2997.27) scale(1 1.04)" font-size="34.57" text-anchor="end">10<tspan font-size="22.3" dx="3.74" dy="-10.44">8</tspan></text>
<text class="b" transform="translate(148.68 2946.1) scale(1 1.04)" font-size="34.57" text-anchor="end">10<tspan font-size="22.3" dx="3.74" dy="-10.44">9</tspan></text>
<text class="b" transform="translate(230.43 3446.1) rotate(-45) scale(1 1)" font-size="34.57" text-anchor="end">control</text>
<text class="b" transform="translate(299.83 3446.1) rotate(-45) scale(1 1)" font-size="34.57" text-anchor="end">5 ng/ml</text>
<text class="b" transform="translate(369.23 3446.1) rotate(-45) scale(1 1)" font-size="34.57" text-anchor="end">500 ng/ml</text>
<text class="b" transform="translate(438.63 3446.1) rotate(-45) scale(1 1)" font-size="34.57" text-anchor="end">50 ug/ml</text>
<text class="b" transform="translate(508.03 3446.1) rotate(-45) scale(1 1)" font-size="34.57" text-anchor="end">100 ug/ml</text>
<text class="b" transform="translate(623.58 3446.1) rotate(-45) scale(1 1)" font-size="34.57" text-anchor="end">control</text>
<text class="b" transform="translate(692.98 3446.1) rotate(-45) scale(1 1)" font-size="34.57" text-anchor="end">5 ng/ml</text>
<text class="b" transform="translate(762.38 3446.1) rotate(-45) scale(1 1)" font-size="34.57" text-anchor="end">500 ng/ml</text>
<text class="b" transform="translate(831.78 3446.1) rotate(-45) scale(1 1)" font-size="34.57" text-anchor="end">50 ug/ml</text>
<text class="b" transform="translate(901.18 3446.1) rotate(-45) scale(1 1)" font-size="34.57" text-anchor="end">100 ug/ml</text>
<text class="b" transform="translate(1016.73 3446.1) rotate(-45) scale(1 1)" font-size="34.57" text-anchor="end">control</text>
<text class="b" transform="translate(1086.13 3446.1) rotate(-45) scale(1 1)" font-size="34.57" text-anchor="end">5 ng/ml</text>
<text class="b" transform="translate(1155.53 3446.1) rotate(-45) scale(1 1)" font-size="34.57" text-anchor="end">500 ng/ml</text>
<text class="b" transform="translate(1224.93 3446.1) rotate(-45) scale(1 1)" font-size="34.57" text-anchor="end">50 ug/ml</text>
<text class="b" transform="translate(1294.33 3446.1) rotate(-45) scale(1 1)" font-size="34.57" text-anchor="end">100 ug/ml</text>
<text class="b" transform="translate(1409.88 3446.1) rotate(-45) scale(1 1)" font-size="34.57" text-anchor="end">control</text>
<text class="b" transform="translate(1479.28 3446.1) rotate(-45) scale(1 1)" font-size="34.57" text-anchor="end">5 ng/ml</text>
<text class="b" transform="translate(1548.68 3446.1) rotate(-45) scale(1 1)" font-size="34.57" text-anchor="end">500 ng/ml</text>
<text class="b" transform="translate(1618.08 3446.1) rotate(-45) scale(1 1)" font-size="34.57" text-anchor="end">50 ug/ml</text>
<text class="b" transform="translate(1687.48 3446.1) rotate(-45) scale(1 1)" font-size="34.57" text-anchor="end">100 ug/ml</text>
<text class="b" transform="translate(1803.03 3446.1) rotate(-45) scale(1 1)" font-size="34.57" text-anchor="end">control</text>
<text class="b" transform="translate(1872.43 3446.1) rotate(-45) scale(1 1)" font-size="34.57" text-anchor="end">5 ng/ml</text>
<text class="b" transform="translate(1941.83 3446.1) rotate(-45) scale(1 1)" font-size="34.57" text-anchor="end">500 ng/ml</text>
<text class="b" transform="translate(2011.23 3446.1) rotate(-45) scale(1 1)" font-size="34.57" text-anchor="end">50 ug/ml</text>
<text class="b" transform="translate(2080.63 3446.1) rotate(-45) scale(1 1)" font-size="34.57" text-anchor="end">100 ug/ml</text>
<text class="b" transform="translate(1145.15 3613.1) scale(1 1)" font-size="38.32" text-anchor="middle">concentration of Cimicifuga racemosa</text>
<text class="b" transform="translate(65.3 3163.35) rotate(-90) scale(1 1)" font-size="38.32" text-anchor="middle">normalized mRNA</text>
<rect x="2166.2" y="2963.1" width="43.7" height="18.6" fill="#F0FFBE" stroke="#000" stroke-width="6.8"/>
<text class="i" transform="translate(2241.5 2984.6) scale(1 1.04)" font-size="37.23">ABCC1</text>
<rect x="2166.2" y="3020.2" width="43.7" height="18.6" fill="#9090FF" stroke="#000" stroke-width="6.8"/>
<text class="i" transform="translate(2241.5 3041.7) scale(1 1.04)" font-size="37.23">ABCC4</text>
<rect x="2166.2" y="3076.4" width="43.7" height="18.6" fill="#FFA0A0" stroke="#000" stroke-width="6.8"/>
<text class="i" transform="translate(2241.5 3098.6) scale(1 1.04)" font-size="37.23">ABCG2</text>
<rect x="2166.2" y="3127.9" width="43.7" height="18.6" fill="#FFC080" stroke="#000" stroke-width="6.8"/>
<text class="i" transform="translate(2241.5 3150.1) scale(1 1.04)" font-size="37.23">SLC51A</text>
<rect x="2166.2" y="3186.8" width="43.7" height="18.6" fill="#60FFA0" stroke="#000" stroke-width="6.8"/>
<text class="i" transform="translate(2241.5 3209.4) scale(1 1.04)" font-size="37.23">SLC51B</text>
<path d="M206.5 2996.5H496.5M206.5 2975.32V3017.68M496.5 2975.32V3017.68" fill="none" stroke="#000" stroke-width="4.33"/>
<text class="s" x="350" y="2986.28" font-size="44.82" text-anchor="middle">*</text>
<path d="M598.5 2996.5H890M598.5 2975.32V3017.68M890 2975.32V3017.68" fill="none" stroke="#000" stroke-width="4.33"/>
<text class="s" x="742.5" y="2986.28" font-size="44.82" text-anchor="middle">*</text>
<path d="M1002.5 3004.2H1144M1002.5 2983.02V3025.38M1144 2983.02V3025.38" fill="none" stroke="#000" stroke-width="4.33"/>
<text class="s" x="1072.5" y="2994.88" font-size="44.82" text-anchor="middle">*</text>
</g>
<g>
<text class="b" transform="translate(1135.25 3803.51) scale(1 1.04)" font-size="44.12" text-anchor="middle">HIEEC</text>
<path d="M172.5 3864.8H2098V4321.4" fill="none" stroke="#000" stroke-width="4.1"/>
<path d="M546.5 3864.8V4321.4M939 3864.8V4321.4M1332 3864.8V4321.4M1724 3864.8V4321.4" fill="none" stroke="#000" stroke-width="3.9"/>
<path d="M242.5 4007.3V4002.34M225.3 4002.34H259.7" fill="none" stroke="#000" stroke-width="4.49"/>
<rect x="210.11" y="4010.81" width="64.77" height="310.59" fill="#F0FFBE" stroke="#000" stroke-width="7.03"/>
<path d="M349.5 4004.3V3998.84M332.3 3998.84H366.7" fill="none" stroke="#000" stroke-width="4.49"/>
<rect x="317.11" y="4007.81" width="64.77" height="313.59" fill="#F0FFBE" stroke="#000" stroke-width="7.03"/>
<path d="M456.5 4009.3V4003.34M439.3 4003.34H473.7" fill="none" stroke="#000" stroke-width="4.49"/>
<rect x="424.11" y="4012.81" width="64.77" height="308.59" fill="#F0FFBE" stroke="#000" stroke-width="7.03"/>
<path d="M635 4042.8V4036.34M617.8 4036.34H652.2" fill="none" stroke="#000" stroke-width="4.49"/>
<rect x="602.61" y="4046.31" width="64.77" height="275.09" fill="#9090FF" stroke="#000" stroke-width="7.03"/>
<path d="M742 4051.3V4049.84M724.8 4049.84H759.2" fill="none" stroke="#000" stroke-width="4.49"/>
<rect x="709.61" y="4054.81" width="64.77" height="266.59" fill="#9090FF" stroke="#000" stroke-width="7.03"/>
<path d="M849 4049.8V4047.34M831.8 4047.34H866.2" fill="none" stroke="#000" stroke-width="4.49"/>
<rect x="816.61" y="4053.31" width="64.77" height="268.09" fill="#9090FF" stroke="#000" stroke-width="7.03"/>
<path d="M1027.5 4066.3V4061.84M1010.3 4061.84H1044.7" fill="none" stroke="#000" stroke-width="4.49"/>
<rect x="995.11" y="4069.81" width="64.77" height="251.59" fill="#FFA0A0" stroke="#000" stroke-width="7.03"/>
<path d="M1134.5 4062.3V4058.34M1117.3 4058.34H1151.7" fill="none" stroke="#000" stroke-width="4.49"/>
<rect x="1102.11" y="4065.81" width="64.77" height="255.59" fill="#FFA0A0" stroke="#000" stroke-width="7.03"/>
<path d="M1241.5 4059.3V4056.84M1224.3 4056.84H1258.7" fill="none" stroke="#000" stroke-width="4.49"/>
<rect x="1209.11" y="4062.81" width="64.77" height="258.59" fill="#FFA0A0" stroke="#000" stroke-width="7.03"/>
<path d="M1420 4159.8V4158.84M1402.8 4158.84H1437.2" fill="none" stroke="#000" stroke-width="4.49"/>
<rect x="1387.61" y="4163.31" width="64.77" height="158.09" fill="#FFC080" stroke="#000" stroke-width="7.03"/>
<path d="M1527 4159.8V4153.34M1509.8 4153.34H1544.2" fill="none" stroke="#000" stroke-width="4.49"/>
<rect x="1494.61" y="4163.31" width="64.77" height="158.09" fill="#FFC080" stroke="#000" stroke-width="7.03"/>
<path d="M1634 4157.3V4149.34M1616.8 4149.34H1651.2" fill="none" stroke="#000" stroke-width="4.49"/>
<rect x="1601.61" y="4160.81" width="64.77" height="160.59" fill="#FFC080" stroke="#000" stroke-width="7.03"/>
<path d="M1812.5 4207.3V4194.34M1795.3 4194.34H1829.7" fill="none" stroke="#000" stroke-width="4.49"/>
<rect x="1780.11" y="4210.81" width="64.77" height="110.59" fill="#60FFA0" stroke="#000" stroke-width="7.03"/>
<path d="M1919.5 4222.3V4204.84M1902.3 4204.84H1936.7" fill="none" stroke="#000" stroke-width="4.49"/>
<rect x="1887.11" y="4225.81" width="64.77" height="95.59" fill="#60FFA0" stroke="#000" stroke-width="7.03"/>
<path d="M2026.5 4192.3V4179.84M2009.3 4179.84H2043.7" fill="none" stroke="#000" stroke-width="4.49"/>
<rect x="1994.11" y="4195.81" width="64.77" height="125.59" fill="#60FFA0" stroke="#000" stroke-width="7.03"/>
<path d="M172.5 3862.75V4321.4H2100.05" fill="none" stroke="#000" stroke-width="4.88" stroke-linejoin="miter"/>
<path d="M152 4321.4H172.5M152 4270.67H172.5M152 4219.93H172.5M152 4169.2H172.5M152 4118.47H172.5M152 4067.73H172.5M152 4017H172.5M152 3966.27H172.5M152 3915.53H172.5M152 3864.8H172.5M242.5 4321.4V4341.41M349.5 4321.4V4341.41M456.5 4321.4V4341.41M635 4321.4V4341.41M742 4321.4V4341.41M849 4321.4V4341.41M1027.5 4321.4V4341.41M1134.5 4321.4V4341.41M1241.5 4321.4V4341.41M1420 4321.4V4341.41M1527 4321.4V4341.41M1634 4321.4V4341.41M1812.5 4321.4V4341.41M1919.5 4321.4V4341.41M2026.5 4321.4V4341.41" fill="none" stroke="#000" stroke-width="4.88"/>
<text class="b" transform="translate(147.61 4334.28) scale(1 1.04)" font-size="34.26" text-anchor="end">10<tspan font-size="22.1" dx="3.71" dy="-10.35">0</tspan></text>
<text class="b" transform="translate(147.61 4283.55) scale(1 1.04)" font-size="34.26" text-anchor="end">10<tspan font-size="22.1" dx="3.71" dy="-10.35">1</tspan></text>
<text class="b" transform="translate(147.61 4232.82) scale(1 1.04)" font-size="34.26" text-anchor="end">10<tspan font-size="22.1" dx="3.71" dy="-10.35">2</tspan></text>
<text class="b" transform="translate(147.61 4182.08) scale(1 1.04)" font-size="34.26" text-anchor="end">10<tspan font-size="22.1" dx="3.71" dy="-10.35">3</tspan></text>
<text class="b" transform="translate(147.61 4131.35) scale(1 1.04)" font-size="34.26" text-anchor="end">10<tspan font-size="22.1" dx="3.71" dy="-10.35">4</tspan></text>
<text class="b" transform="translate(147.61 4080.62) scale(1 1.04)" font-size="34.26" text-anchor="end">10<tspan font-size="22.1" dx="3.71" dy="-10.35">5</tspan></text>
<text class="b" transform="translate(147.61 4029.88) scale(1 1.04)" font-size="34.26" text-anchor="end">10<tspan font-size="22.1" dx="3.71" dy="-10.35">6</tspan></text>
<text class="b" transform="translate(147.61 3979.15) scale(1 1.04)" font-size="34.26" text-anchor="end">10<tspan font-size="22.1" dx="3.71" dy="-10.35">7</tspan></text>
<text class="b" transform="translate(147.61 3928.42) scale(1 1.04)" font-size="34.26" text-anchor="end">10<tspan font-size="22.1" dx="3.71" dy="-10.35">8</tspan></text>
<text class="b" transform="translate(147.61 3877.68) scale(1 1.04)" font-size="34.26" text-anchor="end">10<tspan font-size="22.1" dx="3.71" dy="-10.35">9</tspan></text>
<text class="b" transform="translate(253.53 4373.42) rotate(-45) scale(1 1)" font-size="34.26" text-anchor="end">control</text>
<text class="b" transform="translate(360.53 4373.42) rotate(-45) scale(1 1)" font-size="34.26" text-anchor="end">5 ng/ml</text>
<text class="b" transform="translate(467.53 4373.42) rotate(-45) scale(1 1)" font-size="34.26" text-anchor="end">500 ng/ml</text>
<text class="b" transform="translate(646.03 4373.42) rotate(-45) scale(1 1)" font-size="34.26" text-anchor="end">control</text>
<text class="b" transform="translate(753.03 4373.42) rotate(-45) scale(1 1)" font-size="34.26" text-anchor="end">5 ng/ml</text>
<text class="b" transform="translate(860.03 4373.42) rotate(-45) scale(1 1)" font-size="34.26" text-anchor="end">500 ng/ml</text>
<text class="b" transform="translate(1038.53 4373.42) rotate(-45) scale(1 1)" font-size="34.26" text-anchor="end">control</text>
<text class="b" transform="translate(1145.53 4373.42) rotate(-45) scale(1 1)" font-size="34.26" text-anchor="end">5 ng/ml</text>
<text class="b" transform="translate(1252.53 4373.42) rotate(-45) scale(1 1)" font-size="34.26" text-anchor="end">500 ng/ml</text>
<text class="b" transform="translate(1431.03 4373.42) rotate(-45) scale(1 1)" font-size="34.26" text-anchor="end">control</text>
<text class="b" transform="translate(1538.03 4373.42) rotate(-45) scale(1 1)" font-size="34.26" text-anchor="end">5 ng/ml</text>
<text class="b" transform="translate(1645.03 4373.42) rotate(-45) scale(1 1)" font-size="34.26" text-anchor="end">500 ng/ml</text>
<text class="b" transform="translate(1823.53 4373.42) rotate(-45) scale(1 1)" font-size="34.26" text-anchor="end">control</text>
<text class="b" transform="translate(1930.53 4373.42) rotate(-45) scale(1 1)" font-size="34.26" text-anchor="end">5 ng/ml</text>
<text class="b" transform="translate(2037.53 4373.42) rotate(-45) scale(1 1)" font-size="34.26" text-anchor="end">500 ng/ml</text>
<text class="b" transform="translate(1135.25 4539) scale(1 1)" font-size="37.75" text-anchor="middle">concentration of Cimicifuga racemosa</text>
<text class="b" transform="translate(64.2 4093.1) rotate(-90) scale(1 1)" font-size="37.75" text-anchor="middle">normalized mRNA</text>
<rect x="2146.97" y="3894.57" width="43.87" height="18.67" fill="#F0FFBE" stroke="#000" stroke-width="6.73"/>
<text class="i" transform="translate(2221.5 3916.1) scale(1 1.04)" font-size="36.89">ABCC1</text>
<rect x="2146.97" y="3951.37" width="43.87" height="18.67" fill="#9090FF" stroke="#000" stroke-width="6.73"/>
<text class="i" transform="translate(2221.5 3973.2) scale(1 1.04)" font-size="36.89">ABCC4</text>
<rect x="2146.97" y="4006.77" width="43.87" height="18.67" fill="#FFA0A0" stroke="#000" stroke-width="6.73"/>
<text class="i" transform="translate(2221.5 4029.4) scale(1 1.04)" font-size="36.89">ABCG2</text>
<rect x="2146.97" y="4065.37" width="43.87" height="18.67" fill="#FFC080" stroke="#000" stroke-width="6.73"/>
<text class="i" transform="translate(2221.5 4087.6) scale(1 1.04)" font-size="36.89">SLC51A</text>
<rect x="2146.97" y="4122.87" width="43.87" height="18.67" fill="#60FFA0" stroke="#000" stroke-width="6.73"/>
<text class="i" transform="translate(2221.5 4145.1) scale(1 1.04)" font-size="36.89">SLC51B</text>
</g>
</svg>
</body>
</html>
